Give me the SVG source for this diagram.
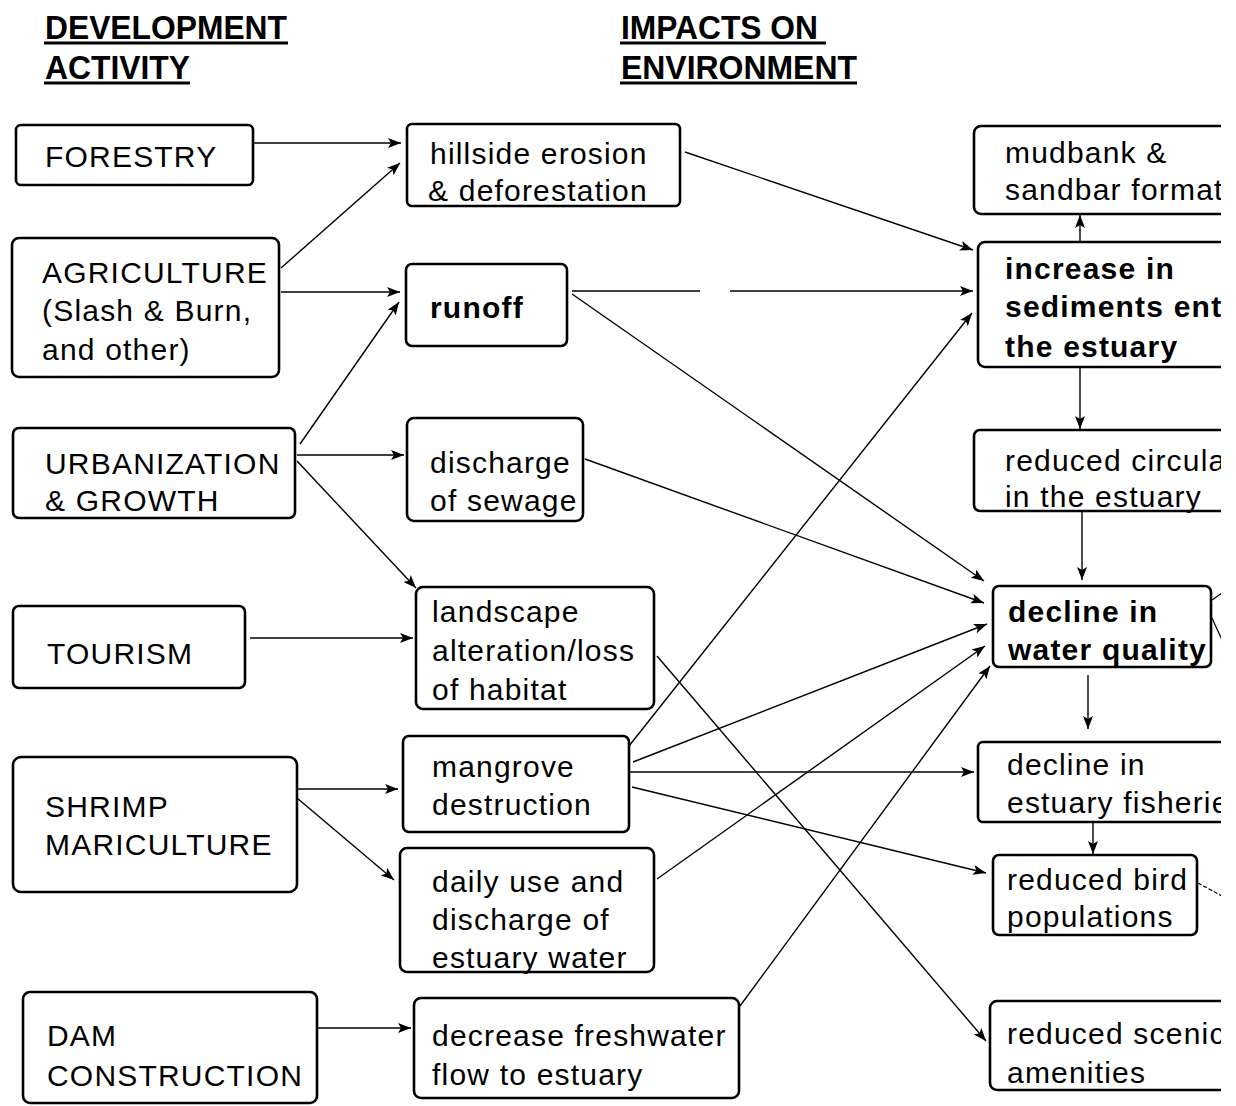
<svg xmlns="http://www.w3.org/2000/svg" width="1236" height="1106" viewBox="0 0 1236 1106">
<style>
.box{fill:#fff;stroke:#000;stroke-width:2.6}
.t{font-family:"Liberation Sans",Arial,sans-serif;font-size:30px;letter-spacing:1.2px;fill:#000}
.b{font-weight:bold}
.h{font-family:"Liberation Sans",Arial,sans-serif;font-size:34px;font-weight:bold;fill:#000}
.ul{stroke:#000;stroke-width:3}
.c{fill:none;stroke:#000;stroke-width:1.4;marker-end:url(#ah)}
.s{fill:none;stroke:#000;stroke-width:1.2}
</style>
<defs>
<marker id="ah" markerUnits="userSpaceOnUse" markerWidth="14" markerHeight="10" refX="13" refY="5" orient="auto">
<path d="M0,0 L13,5 L0,10 L3,5 z" fill="#000"/>
</marker>
<clipPath id="cr"><rect x="0" y="0" width="1221" height="1106"/></clipPath>
</defs>
<rect width="1236" height="1106" fill="#fff"/>

<g id="headers">
<text class="h" x="45" y="39" textLength="242" lengthAdjust="spacingAndGlyphs">DEVELOPMENT</text>
<line class="ul" x1="44" y1="43" x2="288" y2="43"/>
<text class="h" x="45" y="79" textLength="145" lengthAdjust="spacingAndGlyphs">ACTIVITY</text>
<line class="ul" x1="44" y1="83" x2="190" y2="83"/>
<text class="h" x="621" y="39" textLength="197" lengthAdjust="spacingAndGlyphs">IMPACTS ON</text>
<line class="ul" x1="620" y1="43" x2="826" y2="43"/>
<text class="h" x="621" y="79" textLength="236" lengthAdjust="spacingAndGlyphs">ENVIRONMENT</text>
<line class="ul" x1="620" y1="83" x2="857" y2="83"/>
</g>

<g id="connectors">
<line class="c" x1="254" y1="143" x2="401" y2="143"/>
<line class="c" x1="281" y1="268" x2="400" y2="163"/>
<line class="c" x1="281" y1="292" x2="400" y2="292"/>
<line class="c" x1="300" y1="444" x2="399" y2="302"/>
<line class="c" x1="297" y1="455" x2="404" y2="455"/>
<line class="c" x1="297" y1="461" x2="416" y2="588"/>
<line class="c" x1="250" y1="638" x2="413" y2="638"/>
<line class="c" x1="297" y1="789" x2="398" y2="789"/>
<line class="c" x1="297" y1="798" x2="394" y2="880"/>
<line class="c" x1="317" y1="1028" x2="411" y2="1028"/>

<line class="c" x1="685" y1="152" x2="973" y2="250"/>
<path class="c" d="M572,291 H700 M730,291 H973"/>
<line class="c" x1="572" y1="294" x2="984" y2="581"/>
<line class="c" x1="585" y1="459" x2="984" y2="603"/>
<line class="c" x1="657" y1="656" x2="986" y2="1041"/>
<line class="c" x1="629" y1="746" x2="972" y2="313"/>
<line class="c" x1="633" y1="762" x2="987" y2="624"/>
<line class="c" x1="630" y1="772" x2="974" y2="772"/>
<line class="c" x1="632" y1="787" x2="986" y2="873"/>
<line class="c" x1="657" y1="879" x2="985" y2="646"/>
<line class="c" x1="740" y1="1006" x2="990" y2="666"/>

<line class="c" x1="1080" y1="242" x2="1080" y2="215"/>
<line class="c" x1="1080" y1="367" x2="1080" y2="429"/>
<line class="c" x1="1082" y1="512" x2="1082" y2="580"/>
<line class="c" x1="1088" y1="675" x2="1088" y2="729"/>
<line class="c" x1="1093" y1="822" x2="1093" y2="854"/>
<g clip-path="url(#cr)">
<line class="s" x1="1212" y1="600" x2="1222" y2="593"/>
<line class="s" x1="1212" y1="618" x2="1222" y2="640"/>
<line class="s" x1="1198" y1="883" x2="1222" y2="896" stroke-dasharray="4,2"/>
</g>
</g>

<g id="forestry">
<rect class="box" x="16" y="125" width="237" height="60" rx="5"/>
<text class="t" x="45" y="167">FORESTRY</text>
</g>
<g id="agriculture">
<rect class="box" x="12" y="238" width="267" height="139" rx="7"/>
<text class="t" x="42" y="283">AGRICULTURE</text>
<text class="t" x="42" y="321">(Slash &amp; Burn,</text>
<text class="t" x="42" y="360">and other)</text>
</g>
<g id="urbanization">
<rect class="box" x="13" y="428" width="282" height="90" rx="6"/>
<text class="t" x="45" y="474">URBANIZATION</text>
<text class="t" x="45" y="511">&amp; GROWTH</text>
</g>
<g id="tourism">
<rect class="box" x="13" y="606" width="232" height="82" rx="6"/>
<text class="t" x="47" y="664">TOURISM</text>
</g>
<g id="shrimp">
<rect class="box" x="13" y="757" width="284" height="135" rx="8"/>
<text class="t" x="45" y="817">SHRIMP</text>
<text class="t" x="45" y="855">MARICULTURE</text>
</g>
<g id="dam">
<rect class="box" x="23" y="992" width="294" height="111" rx="7"/>
<text class="t" x="47" y="1046">DAM</text>
<text class="t" x="47" y="1086">CONSTRUCTION</text>
</g>

<g id="hillside">
<rect class="box" x="407" y="124" width="273" height="82" rx="5"/>
<text class="t" x="430" y="164">hillside erosion</text>
<text class="t" x="428" y="201">&amp; deforestation</text>
</g>
<g id="runoff">
<rect class="box" x="406" y="264" width="161" height="82" rx="6"/>
<text class="t b" x="430" y="318">runoff</text>
</g>
<g id="sewage">
<rect class="box" x="407" y="418" width="176" height="103" rx="7"/>
<text class="t" x="430" y="473">discharge</text>
<text class="t" x="430" y="511">of sewage</text>
</g>
<g id="landscape">
<rect class="box" x="416" y="587" width="238" height="122" rx="7"/>
<text class="t" x="432" y="622">landscape</text>
<text class="t" x="432" y="661">alteration/loss</text>
<text class="t" x="432" y="700">of habitat</text>
</g>
<g id="mangrove">
<rect class="box" x="403" y="736" width="226" height="96" rx="6"/>
<text class="t" x="432" y="777">mangrove</text>
<text class="t" x="432" y="815">destruction</text>
</g>
<g id="dailyuse">
<rect class="box" x="400" y="848" width="254" height="124" rx="7"/>
<text class="t" x="432" y="892">daily use and</text>
<text class="t" x="432" y="930">discharge of</text>
<text class="t" x="432" y="968">estuary water</text>
</g>
<g id="freshwater">
<rect class="box" x="414" y="998" width="325" height="100" rx="7"/>
<text class="t" x="432" y="1046">decrease freshwater</text>
<text class="t" x="432" y="1085">flow to estuary</text>
</g>

<g id="mudbank" clip-path="url(#cr)">
<rect class="box" x="974" y="126" width="280" height="88" rx="7"/>
<text class="t" x="1005" y="163">mudbank &amp;</text>
<text class="t" x="1005" y="200">sandbar format</text>
</g>
<g id="sediments" clip-path="url(#cr)">
<rect class="box" x="978" y="242" width="280" height="125" rx="7"/>
<text class="t b" x="1005" y="279">increase in</text>
<text class="t b" x="1005" y="317">sediments ent</text>
<text class="t b" x="1005" y="357">the estuary</text>
</g>
<g id="circulation" clip-path="url(#cr)">
<rect class="box" x="974" y="430" width="280" height="81" rx="6"/>
<text class="t" x="1005" y="471">reduced circula</text>
<text class="t" x="1005" y="507">in the estuary</text>
</g>
<g id="waterquality">
<rect class="box" x="993" y="586" width="218" height="81" rx="6"/>
<text class="t b" x="1008" y="622">decline in</text>
<text class="t b" x="1008" y="660">water quality</text>
</g>
<g id="fisheries" clip-path="url(#cr)">
<rect class="box" x="978" y="742" width="280" height="80" rx="5"/>
<text class="t" x="1007" y="775">decline in</text>
<text class="t" x="1007" y="813">estuary fisherie</text>
</g>
<g id="birds">
<rect class="box" x="993" y="855" width="204" height="80" rx="6"/>
<text class="t" x="1007" y="890">reduced bird</text>
<text class="t" x="1007" y="927">populations</text>
</g>
<g id="scenic" clip-path="url(#cr)">
<rect class="box" x="990" y="1001" width="280" height="89" rx="7"/>
<text class="t" x="1007" y="1044">reduced scenic</text>
<text class="t" x="1007" y="1083">amenities</text>
</g>
</svg>
